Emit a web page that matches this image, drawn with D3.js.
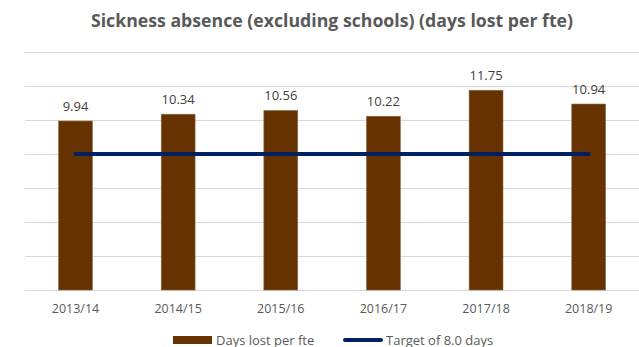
<!DOCTYPE html>
<html>
<head>
<meta charset="utf-8">
<script src="https://cdn.jsdelivr.net/npm/d3@7/dist/d3.min.js"></script>
<style>
  html, body { margin: 0; padding: 0; background: #fff; }
  svg { display: block; font-family: "Open Sans", "Noto Sans", sans-serif; }
</style>
</head>
<body>
<svg id="chart" width="639" height="347"></svg>
<script>
// Financial years and days lost per full-time equivalent
const years = ["2013/14", "2014/15", "2015/16", "2016/17", "2017/18", "2018/19"];
const daysLost = [9.94, 10.34, 10.56, 10.22, 11.75, 10.94];
const target = [8, 8, 8, 8, 8, 8];
const gridTicks = [0, 2, 4, 6, 8, 10, 12, 14];

const titleText = "Sickness absence (excluding schools) (days lost per fte)";
const seriesNames = ["Days lost per fte", "Target of 8.0 days"];

const barColor = "#663300";
const targetColor = "#002060";
const textColor = "#595959";

const svg = d3.select("#chart");

const x = d3.scaleBand().domain(years).range([24.2, 640]).paddingInner(0.67).paddingOuter(0.335);
const y = d3.scaleLinear().domain([0, 14]).range([290, 52]);

// Title
svg.append("text")
  .attr("x", 332).attr("y", 27)
  .attr("text-anchor", "middle")
  .attr("font-size", 17.7).attr("font-weight", "bold")
  .attr("fill", textColor)
  .text(titleText);

// Horizontal gridlines
svg.append("g")
  .attr("transform", "translate(25,0)")
  .call(d3.axisLeft(y).tickValues(gridTicks).tickSize(-(639 - 25)).tickFormat(""))
  .call(g => g.select(".domain").remove())
  .call(g => g.selectAll(".tick line").attr("stroke", "#d9d9d9").attr("stroke-width", 1));

// Bars
svg.append("g").selectAll("rect")
  .data(daysLost)
  .join("rect")
  .attr("x", (d, i) => x(years[i]))
  .attr("width", x.bandwidth())
  .attr("y", d => y(d))
  .attr("height", d => y(0) - y(d))
  .attr("fill", barColor)
  .attr("stroke", "#8a6a4a").attr("stroke-width", 0.6);

// Value labels
svg.append("g").selectAll("text")
  .data(daysLost)
  .join("text")
  .attr("x", (d, i) => x(years[i]) + x.bandwidth() / 2)
  .attr("y", d => y(d) - 10)
  .attr("text-anchor", "middle")
  .attr("font-size", 13)
  .attr("fill", "#404040")
  .text(d => d.toFixed(2));

// Target line
const line = d3.line()
  .x((d, i) => x(years[i]) + x.bandwidth() / 2)
  .y(d => y(d));
svg.append("path")
  .datum(target)
  .attr("d", line)
  .attr("fill", "none")
  .attr("stroke", targetColor)
  .attr("stroke-width", 4)
  .attr("stroke-linecap", "round");

// Category axis labels
const xAxis = svg.append("g")
  .attr("transform", `translate(0,${y(0)})`)
  .call(d3.axisBottom(x).tickSize(0).tickPadding(14));
xAxis.select(".domain").remove();
xAxis.selectAll("text")
  .attr("font-family", "\"Open Sans\", sans-serif")
  .attr("font-size", 12.5)
  .attr("fill", textColor);

// Legend
const legend = svg.append("g");
legend.append("rect")
  .attr("x", 173).attr("y", 336).attr("width", 39).attr("height", 8)
  .attr("fill", barColor);
legend.append("text")
  .attr("x", 216).attr("y", 344.5)
  .attr("font-size", 13).attr("fill", textColor)
  .text(seriesNames[0]);
legend.append("line")
  .attr("x1", 345).attr("x2", 381).attr("y1", 340).attr("y2", 340)
  .attr("stroke", targetColor).attr("stroke-width", 4).attr("stroke-linecap", "round");
legend.append("text")
  .attr("x", 386).attr("y", 344.5)
  .attr("font-size", 13).attr("fill", textColor)
  .text(seriesNames[1]);
</script>
</body>
</html>
